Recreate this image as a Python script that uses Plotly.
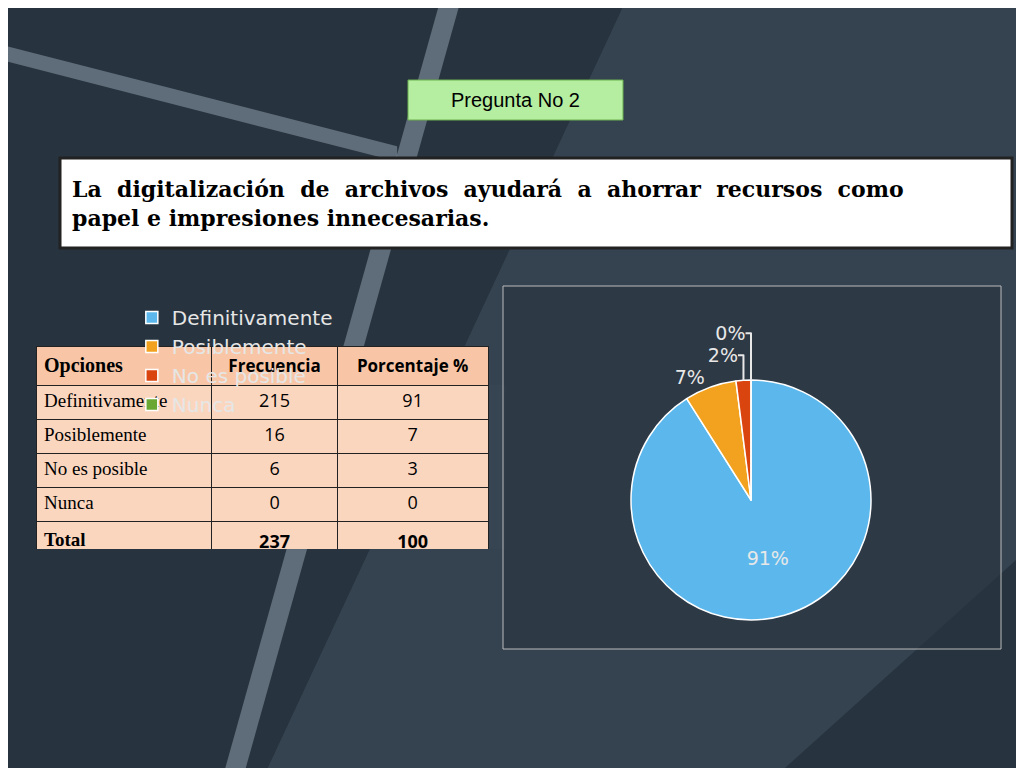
import plotly.graph_objects as go

# Data
opciones = ["Definitivamente", "Posiblemente", "No es posible", "Nunca"]
frecuencia = [215, 16, 6, 0]
porcentaje = [91, 7, 3, 0]
total_frec = 237
total_pct = 100
pie_values = [91, 7, 2, 0]
pie_text = ["91%", "7%", "2%", "0%"]
pie_colors = ["#5cb8ec", "#f2a21e", "#d9440f", "#6aa833"]

fig = go.Figure()

# Table
fig.add_trace(go.Table(
    domain=dict(x=[28/1024, 480/1024], y=[1-542/768, 1-338/768]),
    columnwidth=[175, 125, 150],
    header=dict(
        values=["<b>Opciones</b>", "<b>Frecuencia</b>", "<b>Porcentaje %</b>"],
        fill_color="#f8c6a6", line_color="#222", height=34,
        align=["left", "center", "center"],
        font=dict(family=["Liberation Serif", "Open Sans", "Open Sans"], size=[20, 17, 17], color="black")),
    cells=dict(
        values=[opciones + ["<b>Total</b>"],
                [str(v) for v in frecuencia] + [f"<b>{total_frec}</b>"],
                [str(v) for v in porcentaje] + [f"<b>{total_pct}</b>"]],
        fill_color="#fbd6bf", line_color="#222", height=34,
        align=["left", "center", "center"],
        font=dict(family=["Liberation Serif", "Open Sans", "Open Sans"], size=[19, 18, 18], color="black")),
))

# Pie
fig.add_trace(go.Pie(
    labels=opciones, values=pie_values, text=pie_text, textinfo="text",
    sort=False, direction="clockwise", rotation=0,
    marker=dict(colors=pie_colors, line=dict(color="white", width=1.5)),
    textposition=["inside", "outside", "outside", "outside"],
    insidetextfont=dict(color="#e8e8e8", size=19, family="DejaVu Sans"),
    outsidetextfont=dict(color="#e8e8e8", size=19, family="DejaVu Sans"),
    domain=dict(x=[620/1024, 866/1024], y=[1-612/768, 1-372/768]),
    automargin=False, showlegend=True,
))

shapes = [
    dict(type="rect", xref="paper", yref="paper", x0=0, x1=1, y0=0, y1=1,
         fillcolor="#27343f", line_width=0, layer="below"),
    dict(type="path", xref="paper", yref="paper",
         path="M 0.42,1 L 0.44,1 L 0.23,0 L 0.21,0 Z",
         fillcolor="rgba(200,215,230,0.35)", line_width=0, layer="below"),
    dict(type="path", xref="paper", yref="paper",
         path="M 0,0.95 L 0,0.93 L 0.38,0.80 L 0.38,0.82 Z",
         fillcolor="rgba(200,215,230,0.35)", line_width=0, layer="below"),
    dict(type="path", xref="paper", yref="paper",
         path="M 0.6,1 L 1,1 L 1,0.3 L 0.75,0 L 0.25,0 Z",
         fillcolor="rgba(120,140,160,0.18)", line_width=0, layer="below"),
    dict(type="rect", xref="paper", yref="paper", x0=400/1024, x1=615/1024,
         y0=1-112/768, y1=1-72/768, fillcolor="#b5eea0", line=dict(color="#6ab04c", width=1),
         layer="below"),
    dict(type="rect", xref="paper", yref="paper", x0=52/1024, x1=1004/1024,
         y0=1-240/768, y1=1-150/768, fillcolor="white", line=dict(color="#222", width=3),
         layer="below"),
    dict(type="rect", xref="paper", yref="paper", x0=495/1024, x1=993/1024,
         y0=1-641/768, y1=1-278/768, fillcolor="rgba(40,52,62,0.6)",
         line=dict(color="#bbbbbb", width=1), layer="below"),
]

annotations = [
    dict(text="Pregunta No 2", x=507/1024, y=1-92/768, xref="paper", yref="paper",
         xanchor="center", yanchor="middle",
         showarrow=False, font=dict(family="Liberation Sans", size=20, color="black")),
    dict(text="<b>La  digitalización  de  archivos  ayudará  a  ahorrar  recursos  como</b><br><b>papel e impresiones innecesarias.</b>",
         x=62/1024, y=1-195/768, xref="paper", yref="paper", xanchor="left", yanchor="middle",
         align="left", showarrow=False,
         font=dict(family="DejaVu Serif", size=22, color="black")),
]

fig.update_layout(
    width=1024, height=768, margin=dict(l=0, r=0, t=0, b=0),
    paper_bgcolor="#27343f", plot_bgcolor="#27343f",
    shapes=shapes, annotations=annotations,
    legend=dict(orientation="h", x=535/1024, y=1-290/768, xanchor="left", yanchor="top",
                entrywidth=180, entrywidthmode="pixels",
                font=dict(family="DejaVu Sans", size=20, color="#e6e6e6"),
                bgcolor="rgba(0,0,0,0)", traceorder="normal"),
)

fig.write_html("out.html")
